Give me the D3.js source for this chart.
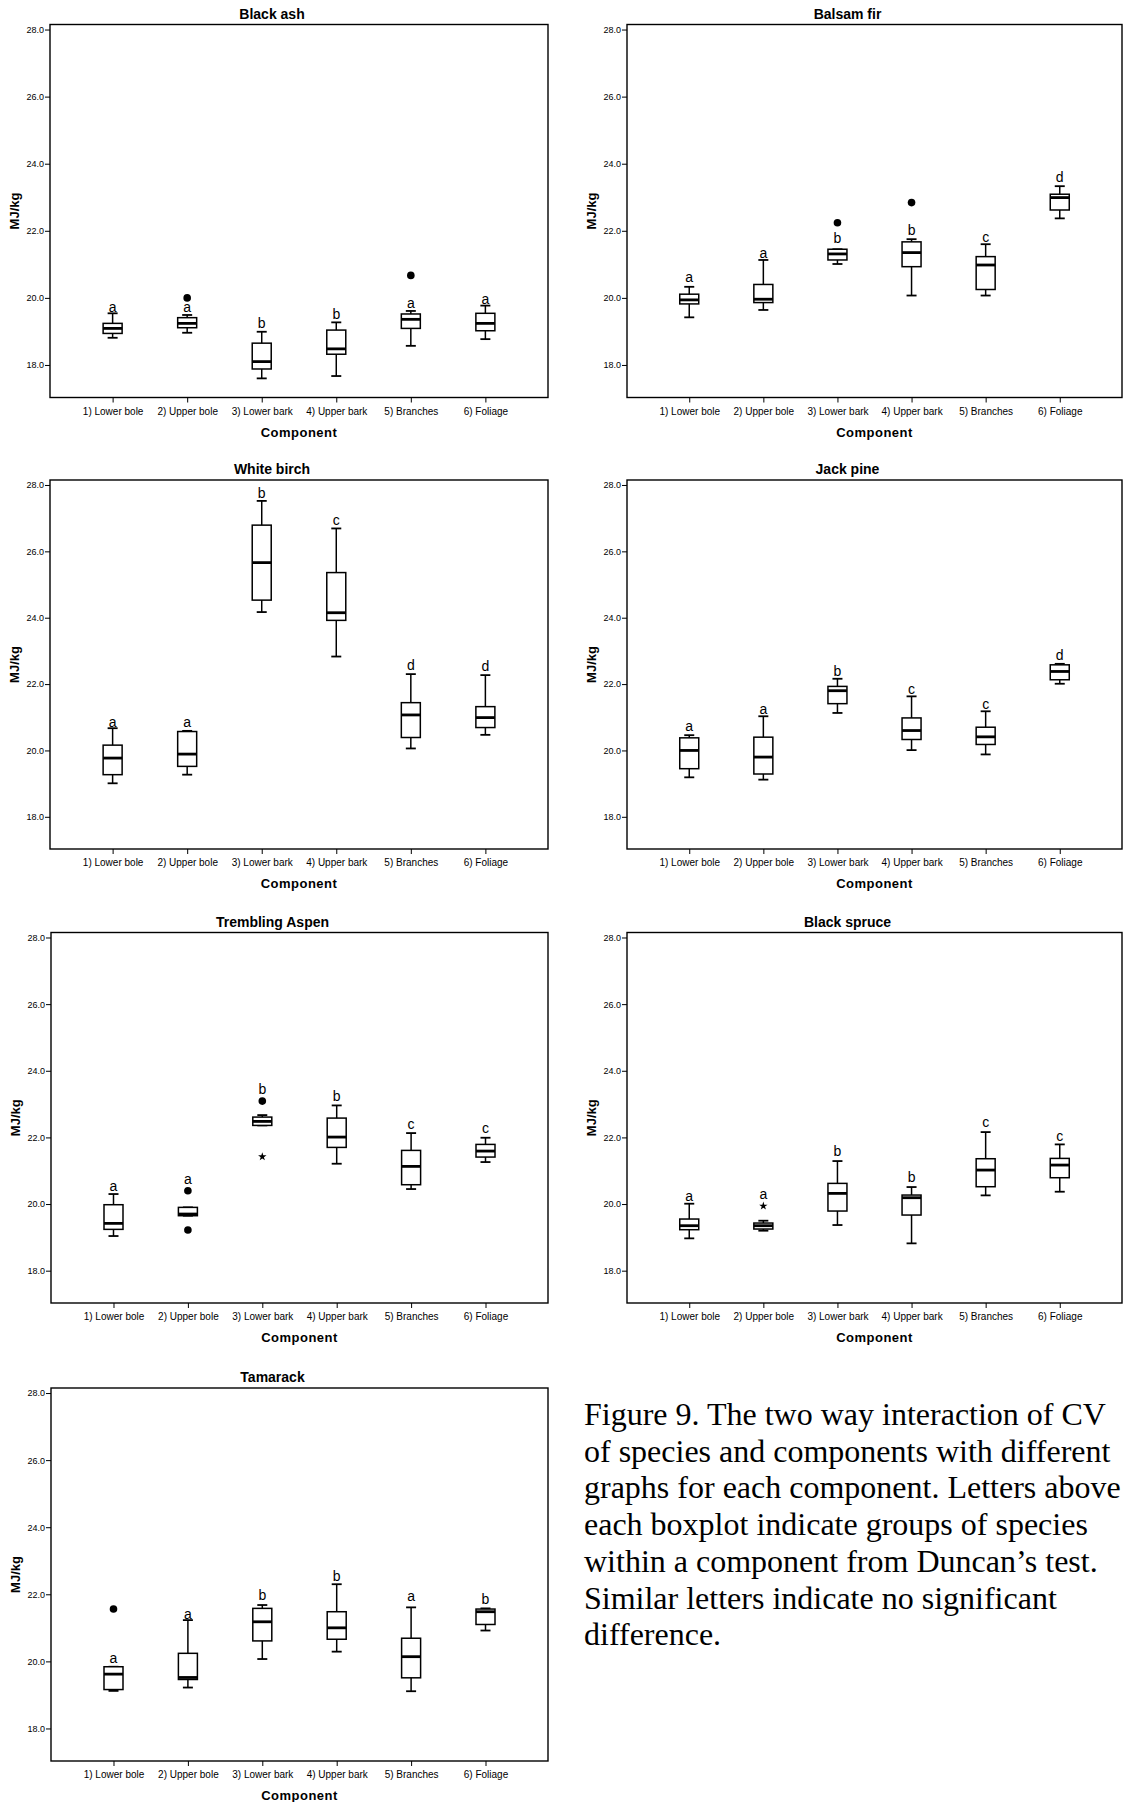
<!DOCTYPE html>
<html><head><meta charset="utf-8">
<script src="https://cdn.jsdelivr.net/npm/d3@7"></script>
<style>body{margin:0;background:#fff} svg{display:block}</style>
</head><body>
<svg id="chart" width="1129" height="1802"></svg>
<script>
const components = ["1) Lower bole","2) Upper bole","3) Lower bark","4) Upper bark","5) Branches","6) Foliage"];
const species = ["Black ash","Balsam fir","White birch","Jack pine","Trembling Aspen","Black spruce","Tamarack"];
const yTicks = [18,20,22,24,26,28];
const yTitle = "MJ/kg";
const xTitle = "Component";

// five-number summaries per component: [lower whisker, Q1, median, Q3, upper whisker]
const blackAshStats = [[18.81,18.94,19.09,19.24,19.54],[18.96,19.11,19.24,19.41,19.49],[17.60,17.88,18.10,18.65,18.99],[17.67,18.32,18.48,19.04,19.27],[18.57,19.09,19.36,19.52,19.61],[18.77,19.02,19.24,19.54,19.77]];
const blackAshOutliers = [[1,20.00,"o"],[4,20.67,"o"]];
const blackAshLetters = ["a","a","b","b","a","a"];
const blackAshLetterY = [19.59,19.59,19.09,19.37,19.71,19.83];

const balsamFirStats = [[19.42,19.82,19.94,20.11,20.33],[19.64,19.86,19.96,20.40,21.13],[21.01,21.13,21.31,21.45,21.45],[20.07,20.93,21.35,21.67,21.75],[20.07,20.25,20.98,21.23,21.60],[22.37,22.62,22.99,23.09,23.33]];
const balsamFirOutliers = [[2,22.24,"o"],[3,22.84,"o"]];
const balsamFirLetters = ["a","a","b","b","c","d"];
const balsamFirLetterY = [20.48,21.18,21.64,21.87,21.67,23.45];

const whiteBirchStats = [[19.01,19.27,19.77,20.16,20.67],[19.27,19.52,19.89,20.57,20.59],[24.17,24.53,25.66,26.79,27.52],[22.83,23.92,24.15,25.36,26.69],[20.06,20.39,21.07,21.44,22.30],[20.47,20.69,20.99,21.32,22.27]];
const whiteBirchOutliers = [];
const whiteBirchLetters = ["a","a","b","c","d","d"];
const whiteBirchLetterY = [20.72,20.70,27.60,26.78,22.41,22.39];

const jackPineStats = [[19.19,19.45,20.00,20.38,20.46],[19.12,19.29,19.80,20.40,21.03],[21.13,21.41,21.80,21.93,22.16],[20.01,20.33,20.60,20.98,21.63],[19.88,20.18,20.41,20.70,21.18],[22.01,22.13,22.38,22.58,22.61]];
const jackPineOutliers = [];
const jackPineLetters = ["a","a","b","c","c","d"];
const jackPineLetterY = [20.58,21.11,22.24,21.71,21.24,22.74];

const aspenStats = [[19.04,19.24,19.42,19.98,20.30],[19.65,19.65,19.70,19.90,19.90],[22.36,22.36,22.48,22.61,22.67],[21.21,21.70,22.01,22.58,22.96],[20.45,20.58,21.13,21.61,22.13],[21.26,21.41,21.59,21.79,21.99]];
const aspenOutliers = [[1,20.40,"o"],[1,19.22,"o"],[2,23.09,"o"],[2,21.42,"*"]];
const aspenLetters = ["a","a","b","b","c","c"];
const aspenLetterY = [20.39,20.61,23.30,23.10,22.24,22.12];

const blackSpruceStats = [[18.97,19.23,19.35,19.55,20.01],[19.20,19.25,19.35,19.43,19.50],[19.37,19.79,20.32,20.62,21.29],[18.82,19.67,20.19,20.27,20.51],[20.26,20.52,21.02,21.36,22.16],[20.37,20.79,21.17,21.37,21.79]];
const blackSpruceOutliers = [[1,19.94,"*"]];
const blackSpruceLetters = ["a","a","b","b","c","c"];
const blackSpruceLetterY = [20.08,20.15,21.43,20.65,22.30,21.90];

const tamarackStats = [[19.12,19.16,19.62,19.84,19.84],[19.22,19.46,19.52,20.24,21.23],[20.07,20.61,21.18,21.58,21.68],[20.29,20.66,21.00,21.48,22.30],[19.11,19.51,20.14,20.69,21.61],[20.92,21.10,21.48,21.56,21.58]];
const tamarackOutliers = [[0,21.56,"o"]];
const tamarackLetters = ["a","a","b","b","a","b"];
const tamarackLetterY = [19.96,21.25,21.84,22.39,21.79,21.71];

const captionLines = [
  "Figure 9. The two way interaction of CV",
  "of species and components with different",
  "graphs for each component. Letters above",
  "each boxplot indicate groups of species",
  "within a component from Duncan\u2019s test.",
  "Similar letters indicate no significant",
  "difference."
];

const panels = [
  {stats: blackAshStats, outliers: blackAshOutliers, letters: blackAshLetters, letterY: blackAshLetterY},
  {stats: balsamFirStats, outliers: balsamFirOutliers, letters: balsamFirLetters, letterY: balsamFirLetterY},
  {stats: whiteBirchStats, outliers: whiteBirchOutliers, letters: whiteBirchLetters, letterY: whiteBirchLetterY},
  {stats: jackPineStats, outliers: jackPineOutliers, letters: jackPineLetters, letterY: jackPineLetterY},
  {stats: aspenStats, outliers: aspenOutliers, letters: aspenLetters, letterY: aspenLetterY},
  {stats: blackSpruceStats, outliers: blackSpruceOutliers, letters: blackSpruceLetters, letterY: blackSpruceLetterY},
  {stats: tamarackStats, outliers: tamarackOutliers, letters: tamarackLetters, letterY: tamarackLetterY}
];

// layout (frame box of each panel)
const layout = [
  {x0:50, x1:548, y0:24.5, y1:397.5},
  {x0:627, x1:1122, y0:24.5, y1:397.5},
  {x0:50, x1:548, y0:480, y1:849},
  {x0:627, x1:1122, y0:480, y1:849},
  {x0:51, x1:548, y0:932.5, y1:1303},
  {x0:627, x1:1122, y0:932.5, y1:1303},
  {x0:51, x1:548, y0:1388, y1:1761}
];

const sans = "'Liberation Sans', Arial, sans-serif";
const svg = d3.select("#chart");
const bw = 19, cw = 10;

panels.forEach((p, i) => {
  const L = layout[i];
  const g = svg.append("g");
  const x = d3.scalePoint().domain(components).range([L.x0, L.x1]).padding(0.84);
  const y = d3.scaleLinear().domain([17.03, 28.15]).range([L.y1, L.y0]);

  g.append("rect").attr("x", L.x0).attr("y", L.y0)
    .attr("width", L.x1 - L.x0).attr("height", L.y1 - L.y0)
    .attr("fill", "none").attr("stroke", "#000").attr("stroke-width", 1.4);

  const ya = g.append("g").attr("transform", `translate(${L.x0},0)`)
    .call(d3.axisLeft(y).tickValues(yTicks).tickFormat(d3.format(".1f")).tickSize(5).tickPadding(1));
  ya.select(".domain").remove();
  ya.selectAll("text").attr("font-family", sans).attr("font-size", 9).attr("fill", "#000");
  ya.selectAll("line").attr("stroke", "#000");

  const xa = g.append("g").attr("transform", `translate(0,${L.y1})`)
    .call(d3.axisBottom(x).tickSize(5).tickPadding(5));
  xa.select(".domain").remove();
  xa.selectAll("text").attr("font-family", sans).attr("font-size", 10).attr("fill", "#000");
  xa.selectAll("line").attr("stroke", "#000");

  g.append("text").attr("x", (L.x0 + L.x1) / 2 - 27).attr("y", L.y0 - 6)
    .attr("text-anchor", "middle").attr("font-family", sans).attr("font-weight", "bold")
    .attr("font-size", 14).text(species[i]);

  g.append("text").attr("x", (L.x0 + L.x1) / 2).attr("y", L.y1 + 39)
    .attr("text-anchor", "middle").attr("font-family", sans).attr("font-weight", "bold")
    .attr("font-size", 13).attr("letter-spacing", 0.5).text(xTitle);

  g.append("text").attr("transform", `translate(${L.x0 - 36},${(L.y0 + L.y1) / 2}) rotate(-90)`)
    .attr("text-anchor", "middle").attr("dy", "0.35em").attr("font-family", sans)
    .attr("font-weight", "bold").attr("font-size", 13).text(yTitle);

  const data = p.stats.map((s, j) => ({c: components[j], s}));
  const bx = g.selectAll("g.box").data(data).join("g").attr("class", "box");
  bx.append("line").attr("x1", d => x(d.c)).attr("x2", d => x(d.c))
    .attr("y1", d => y(d.s[4])).attr("y2", d => y(d.s[0]))
    .attr("stroke", "#000").attr("stroke-width", 1.5);
  bx.append("line").attr("x1", d => x(d.c) - cw / 2).attr("x2", d => x(d.c) + cw / 2)
    .attr("y1", d => y(d.s[4])).attr("y2", d => y(d.s[4]))
    .attr("stroke", "#000").attr("stroke-width", 1.8);
  bx.append("line").attr("x1", d => x(d.c) - cw / 2).attr("x2", d => x(d.c) + cw / 2)
    .attr("y1", d => y(d.s[0])).attr("y2", d => y(d.s[0]))
    .attr("stroke", "#000").attr("stroke-width", 1.8);
  bx.append("rect").attr("x", d => x(d.c) - bw / 2).attr("width", bw)
    .attr("y", d => y(d.s[3])).attr("height", d => Math.max(1, y(d.s[1]) - y(d.s[3])))
    .attr("fill", "#fff").attr("stroke", "#000").attr("stroke-width", 1.5);
  bx.append("line").attr("x1", d => x(d.c) - bw / 2).attr("x2", d => x(d.c) + bw / 2)
    .attr("y1", d => y(d.s[2])).attr("y2", d => y(d.s[2]))
    .attr("stroke", "#000").attr("stroke-width", 2.8);

  g.selectAll("circle.out").data(p.outliers.filter(o => o[2] === "o")).join("circle")
    .attr("class", "out").attr("cx", o => x(components[o[0]])).attr("cy", o => y(o[1]))
    .attr("r", 3.8).attr("fill", "#000");
  g.selectAll("path.ext").data(p.outliers.filter(o => o[2] === "*")).join("path")
    .attr("class", "ext").attr("transform", o => `translate(${x(components[o[0]])},${y(o[1])})`)
    .attr("d", d3.symbol(d3.symbolStar, 22)).attr("fill", "#000");

  g.selectAll("text.let").data(p.letters).join("text").attr("class", "let")
    .attr("x", (l, j) => x(components[j])).attr("y", (l, j) => y(p.letterY[j]))
    .attr("text-anchor", "middle").attr("font-family", sans).attr("font-size", 14).text(l => l);
});

svg.append("text").attr("font-family", "'Liberation Serif', 'Times New Roman', serif")
  .attr("font-size", 32).attr("fill", "#000")
  .selectAll("tspan").data(captionLines).join("tspan")
  .attr("x", 584).attr("y", (t, k) => 1425 + k * 36.7).text(t => t);
</script>
</body></html>
